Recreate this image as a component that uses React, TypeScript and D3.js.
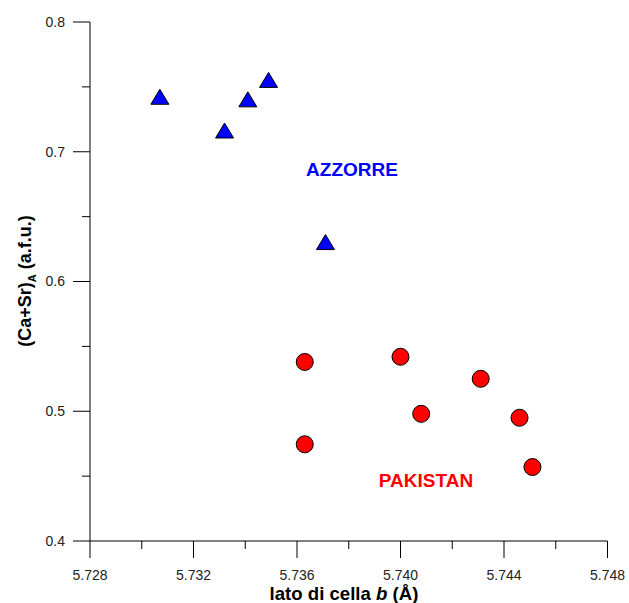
import React from "react";
import * as d3 from "d3";

// Cell parameter b (Å) vs (Ca+Sr) in the A site (a.f.u.)
const azzorreB = [5.7307, 5.7332, 5.7341, 5.7349, 5.7371];
const azzorreCaSr = [0.742, 0.716, 0.74, 0.755, 0.63];

const pakistanB = [5.7363, 5.74, 5.7431, 5.7408, 5.7446, 5.7363, 5.7451];
const pakistanCaSr = [0.538, 0.542, 0.525, 0.498, 0.495, 0.4745, 0.457];

const xMajorTicks = [5.728, 5.732, 5.736, 5.74, 5.744, 5.748];
const xMinorTicks = [5.73, 5.734, 5.738, 5.742, 5.746];
const yMajorTicks = [0.4, 0.5, 0.6, 0.7, 0.8];
const yMinorTicks = [0.45, 0.55, 0.65, 0.75];

const W = 629;
const H = 603;
const x = d3.scaleLinear().domain([5.728, 5.748]).range([90, 607.5]);
const y = d3.scaleLinear().domain([0.4, 0.8]).range([541, 22]);

const font = "Arial, 'Liberation Sans', Helvetica, sans-serif";

function triangle(cx: number, cy: number): string {
  const p = d3.path();
  p.moveTo(cx, cy - 8);
  p.lineTo(cx + 9, cy + 7);
  p.lineTo(cx - 9, cy + 7);
  p.closePath();
  return p.toString();
}

export default function App() {
  const x0 = x.range()[0];
  const x1 = x.range()[1];
  const y0 = y.range()[0];
  const y1 = y.range()[1];
  return (
    <svg
      width={W}
      height={H}
      style={{ position: "absolute", left: 0, top: 0, background: "#fff" }}
      fontFamily={font}
    >
      {/* axes */}
      <line x1={x0} x2={x0} y1={y1} y2={y0} stroke="#000" strokeWidth={1} />
      <line x1={x0} x2={x1} y1={y0} y2={y0} stroke="#000" strokeWidth={1} />

      {yMajorTicks.map((t) => (
        <g key={"ym" + t}>
          <line x1={x0 - 17} x2={x0} y1={y(t)} y2={y(t)} stroke="#000" />
          <text x={65} y={y(t)} dy="0.35em" textAnchor="end" fontSize={14} fill="#222">
            {d3.format(".1f")(t)}
          </text>
        </g>
      ))}
      {yMinorTicks.map((t) => (
        <line key={"yn" + t} x1={x0 - 8} x2={x0} y1={y(t)} y2={y(t)} stroke="#000" />
      ))}

      {xMajorTicks.map((t) => (
        <g key={"xm" + t}>
          <line x1={x(t)} x2={x(t)} y1={y0} y2={y0 + 17} stroke="#000" />
          <text x={x(t)} y={579.5} textAnchor="middle" fontSize={14} fill="#222">
            {d3.format(".3f")(t)}
          </text>
        </g>
      ))}
      {xMinorTicks.map((t) => (
        <line key={"xn" + t} x1={x(t)} x2={x(t)} y1={y0} y2={y0 + 8} stroke="#000" />
      ))}

      {/* axis titles */}
      <text x={344} y={599.5} textAnchor="middle" fontSize={18.6} fontWeight="bold" fill="#000">
        lato di cella <tspan fontStyle="italic">b</tspan> (Å)
      </text>
      <text
        transform="translate(31,281) rotate(-90)"
        textAnchor="middle"
        fontSize={18}
        fontWeight="bold"
        fill="#000"
      >
        (Ca+Sr)
        <tspan fontSize={11} dy={5}>A</tspan>
        <tspan dy={-5}> (a.f.u.)</tspan>
      </text>

      {/* data */}
      {azzorreB.map((b, i) => (
        <path
          key={"a" + i}
          d={triangle(x(b), y(azzorreCaSr[i]))}
          fill="#0000ff"
          stroke="#000"
          strokeWidth={1}
        />
      ))}
      {pakistanB.map((b, i) => (
        <circle
          key={"p" + i}
          cx={x(b)}
          cy={y(pakistanCaSr[i])}
          r={8.5}
          fill="#ff0000"
          stroke="#000"
          strokeWidth={1}
        />
      ))}

      {/* group labels */}
      <text x={352} y={176} textAnchor="middle" fontSize={19} fontWeight="bold" fill="#0000ff">
        AZZORRE
      </text>
      <text x={426} y={487} textAnchor="middle" fontSize={19} fontWeight="bold" fill="#ff0000">
        PAKISTAN
      </text>
    </svg>
  );
}
